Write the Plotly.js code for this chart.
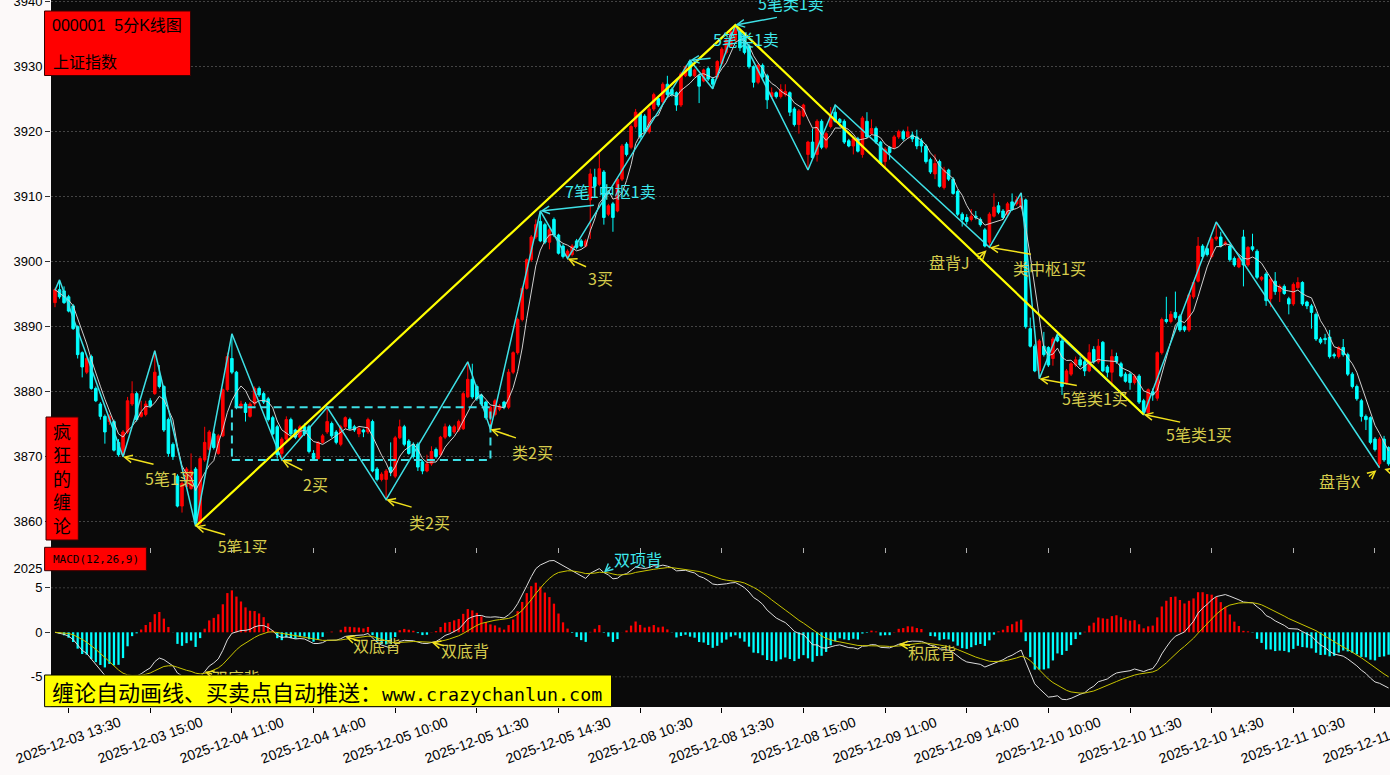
<!DOCTYPE html>
<html><head><meta charset="utf-8">
<script src="https://cdn.plot.ly/plotly-3.0.1.min.js"></script>
<style>html,body{margin:0;padding:0;background:#fcf9f9;}#chart{width:1390px;height:775px;}</style>
</head><body><div id="chart"></div>
<script>
// ---------------- DATA ----------------
// 5-minute bars of 000001 上证指数, [open, high, low, close]
const ohlc = [
[3893.7,3896.0,3893.0,3895.7],[3895.7,3897.2,3894.3,3894.6],[3895.5,3896.2,3893.5,3893.7],[3894.6,3894.9,3892.2,3892.4],[3893.2,3893.5,3889.5,3889.7],
[3890.0,3890.2,3885.1,3885.7],[3886.0,3886.2,3882.2,3883.8],[3883.0,3885.4,3882.7,3885.1],[3885.4,3885.7,3880.3,3880.5],[3880.5,3880.8,3878.4,3878.6],
[3878.1,3878.4,3875.7,3876.2],[3876.2,3876.5,3872.0,3873.8],[3875.4,3876.5,3874.9,3876.2],[3875.4,3875.7,3870.8,3871.0],[3872.2,3872.7,3870.0,3870.3],
[3870.3,3874.1,3870.0,3873.8],[3873.8,3879.2,3873.5,3878.6],[3878.1,3881.6,3877.8,3879.7],[3879.7,3880.0,3875.4,3875.7],[3876.2,3878.6,3876.0,3876.8],
[3876.5,3878.6,3876.2,3878.1],[3878.6,3879.0,3877.6,3877.8],[3879.7,3886.3,3879.5,3883.0],[3882.4,3884.1,3880.5,3880.8],[3880.8,3881.0,3873.8,3874.1],
[3875.7,3876.0,3870.0,3870.5],[3871.9,3872.2,3869.5,3870.0],[3867.0,3867.3,3862.2,3862.4],[3862.4,3866.2,3861.4,3865.9],[3865.4,3868.4,3865.1,3868.1],
[3865.1,3870.5,3864.9,3867.8],[3868.1,3868.4,3859.3,3859.8],[3859.8,3870.0,3859.5,3869.7],[3869.5,3874.6,3869.2,3872.2],[3871.1,3874.1,3870.8,3873.8],
[3873.5,3874.1,3871.1,3871.4],[3870.5,3873.5,3870.3,3873.2],[3873.2,3880.5,3873.0,3880.3],[3880.3,3886.0,3880.0,3885.4],[3885.1,3888.9,3882.7,3883.0],
[3883.0,3883.2,3877.3,3877.6],[3877.8,3878.6,3877.3,3878.1],[3878.1,3878.4,3875.4,3876.8],[3876.2,3878.4,3876.0,3878.1],[3878.1,3880.8,3877.8,3880.5],
[3880.5,3880.8,3879.2,3879.5],[3879.7,3880.0,3878.1,3878.4],[3878.9,3879.2,3875.4,3875.7],[3876.0,3876.3,3873.3,3873.5],[3874.6,3874.9,3869.7,3870.3],
[3870.5,3873.0,3869.5,3872.7],[3872.7,3876.2,3872.4,3875.7],[3875.7,3876.0,3873.2,3873.5],[3874.1,3874.3,3872.7,3873.0],[3873.0,3874.9,3872.7,3874.6],
[3874.6,3875.1,3873.2,3873.5],[3874.6,3874.9,3870.5,3870.8],[3870.5,3871.0,3869.6,3869.7],[3869.7,3872.4,3869.6,3872.2],[3872.2,3873.5,3872.0,3873.2],
[3873.8,3877.6,3873.5,3875.4],[3875.1,3875.4,3872.9,3873.2],[3873.8,3874.1,3871.9,3872.2],[3871.9,3874.9,3871.6,3874.6],[3874.6,3876.2,3874.3,3876.0],
[3875.7,3876.0,3874.1,3874.3],[3874.6,3874.9,3873.8,3874.1],[3873.5,3874.6,3873.0,3874.3],[3874.1,3874.3,3873.0,3873.8],[3873.8,3876.0,3873.5,3875.7],
[3875.4,3875.7,3867.6,3867.8],[3868.1,3868.4,3866.2,3866.5],[3866.5,3867.6,3866.2,3867.3],[3866.5,3868.1,3863.4,3867.8],[3868.4,3872.2,3867.0,3867.6],
[3867.0,3873.2,3866.7,3872.9],[3872.9,3875.7,3872.7,3874.6],[3874.6,3874.9,3871.6,3871.9],[3872.4,3872.7,3870.3,3870.5],[3871.9,3872.2,3869.7,3870.0],
[3871.9,3872.2,3867.8,3868.4],[3869.2,3869.5,3867.3,3867.8],[3867.8,3870.3,3867.6,3868.9],[3868.9,3871.6,3868.6,3870.8],[3871.1,3871.4,3869.7,3870.0],
[3870.3,3873.2,3870.0,3873.0],[3873.0,3875.1,3872.7,3874.6],[3874.6,3874.9,3873.0,3873.2],[3873.8,3874.9,3873.5,3874.6],[3874.1,3875.7,3873.8,3875.4],
[3874.3,3880.0,3874.1,3879.7],[3879.2,3884.6,3879.0,3881.9],[3881.9,3884.3,3878.9,3879.2],[3880.8,3881.1,3878.6,3878.9],[3879.5,3879.7,3877.8,3878.1],
[3878.4,3878.6,3875.7,3876.0],[3876.0,3877.8,3874.2,3877.6],[3876.5,3878.9,3876.2,3878.6],[3877.3,3878.1,3877.0,3877.8],[3878.4,3878.6,3877.3,3877.6],
[3877.6,3883.5,3877.3,3883.0],[3883.0,3886.2,3882.7,3886.0],[3886.0,3891.4,3885.7,3891.1],[3891.1,3896.2,3890.8,3895.9],[3895.9,3900.5,3895.7,3900.3],
[3900.3,3904.1,3900.0,3903.8],[3903.8,3906.5,3903.5,3905.7],[3906.2,3907.8,3903.0,3903.2],[3905.7,3906.0,3902.7,3903.0],[3903.0,3905.2,3901.9,3904.9],
[3906.5,3906.8,3903.8,3904.1],[3904.1,3904.3,3901.1,3901.3],[3902.4,3902.7,3900.5,3900.8],[3900.8,3901.9,3900.5,3901.6],[3901.1,3902.7,3900.8,3902.4],
[3903.2,3903.5,3901.9,3902.2],[3903.2,3903.5,3902.2,3902.4],[3902.4,3903.5,3902.2,3903.2],[3909.5,3914.3,3903.5,3913.5],[3913.0,3914.3,3911.4,3911.6],
[3911.9,3916.8,3911.6,3914.3],[3913.8,3914.1,3905.7,3906.8],[3907.3,3908.9,3907.0,3908.6],[3908.9,3909.2,3904.6,3906.8],[3907.8,3913.0,3907.6,3912.7],
[3912.7,3918.1,3912.4,3917.8],[3918.1,3918.4,3916.2,3916.5],[3917.6,3921.1,3917.3,3920.8],[3920.8,3923.5,3920.5,3923.0],[3922.7,3923.0,3918.9,3919.2],
[3922.4,3922.7,3919.7,3920.0],[3920.0,3923.8,3919.7,3923.5],[3923.5,3926.0,3923.2,3925.7],[3925.1,3925.4,3923.8,3924.1],[3924.6,3927.6,3924.3,3927.3],
[3927.3,3928.6,3925.4,3925.7],[3926.5,3926.8,3925.4,3925.7],[3926.0,3926.2,3923.2,3924.1],[3924.1,3929.2,3923.8,3928.9],[3928.6,3930.2,3928.4,3930.0],
[3930.8,3931.0,3928.4,3928.6],[3928.6,3929.7,3928.4,3929.5],[3928.6,3928.9,3924.4,3927.0],[3927.8,3929.7,3927.6,3929.5],[3929.7,3930.0,3927.8,3928.1],
[3928.1,3928.4,3926.6,3927.3],[3928.4,3931.0,3928.1,3930.8],[3930.5,3933.0,3930.2,3932.7],[3932.2,3934.3,3931.9,3934.1],[3933.2,3935.7,3932.9,3935.4],
[3934.1,3936.4,3933.8,3935.7],[3935.4,3935.7,3932.4,3932.9],[3934.9,3935.1,3931.9,3932.2],[3933.2,3933.5,3929.7,3930.0],[3930.0,3930.2,3926.8,3927.6],
[3927.6,3930.5,3927.3,3930.2],[3930.2,3930.5,3928.1,3928.4],[3928.6,3928.9,3923.5,3924.9],[3925.4,3926.8,3925.1,3926.0],[3926.0,3926.2,3925.1,3925.4],
[3925.4,3927.3,3925.1,3926.5],[3925.7,3927.3,3925.4,3926.2],[3926.0,3926.2,3922.4,3923.0],[3923.5,3923.8,3920.8,3921.1],[3921.1,3923.5,3919.7,3923.2],
[3922.4,3924.3,3922.2,3924.1],[3916.5,3918.6,3914.1,3918.4],[3918.4,3920.5,3915.7,3916.0],[3916.5,3921.9,3915.4,3921.6],[3921.6,3921.9,3917.3,3917.6],
[3917.6,3920.0,3917.3,3919.7],[3920.8,3923.8,3920.5,3922.4],[3923.0,3924.1,3921.4,3921.6],[3921.9,3922.1,3920.8,3921.4],[3921.6,3921.9,3918.1,3918.4],
[3918.6,3918.9,3917.6,3917.8],[3917.8,3919.2,3916.5,3918.9],[3918.9,3919.2,3916.8,3917.0],[3916.5,3922.4,3916.0,3922.1],[3921.6,3923.0,3919.0,3919.2],
[3919.7,3921.9,3919.5,3920.5],[3920.5,3920.8,3918.1,3918.4],[3918.4,3918.6,3914.9,3915.1],[3915.4,3917.6,3914.3,3917.3],[3917.6,3917.8,3915.7,3916.8],
[3917.6,3919.5,3917.3,3919.2],[3919.2,3920.3,3918.9,3920.0],[3920.0,3920.3,3918.6,3918.9],[3919.2,3920.8,3918.9,3920.0],[3919.5,3920.0,3918.4,3918.9],
[3919.2,3920.3,3917.3,3917.8],[3918.6,3919.0,3916.8,3917.8],[3917.8,3918.1,3915.1,3915.4],[3915.7,3916.0,3913.5,3913.8],[3913.5,3916.5,3912.7,3915.1],
[3915.4,3915.7,3911.4,3911.6],[3911.4,3914.6,3911.1,3914.1],[3914.1,3914.3,3912.4,3912.7],[3912.7,3913.0,3910.3,3910.5],[3910.8,3911.1,3907.0,3907.3],
[3907.3,3907.6,3905.4,3906.5],[3906.8,3907.3,3905.7,3906.2],[3906.5,3908.1,3906.2,3907.0],[3907.0,3907.8,3906.5,3906.8],[3906.5,3906.8,3905.4,3905.7],
[3904.9,3905.2,3902.2,3902.4],[3903.0,3907.6,3902.2,3907.3],[3907.0,3910.5,3906.8,3908.4],[3908.6,3909.2,3907.3,3907.6],[3907.8,3908.1,3906.5,3906.8],
[3907.3,3909.2,3907.0,3908.9],[3909.2,3910.5,3907.8,3908.1],[3908.9,3910.0,3908.6,3909.5],[3908.4,3910.6,3908.1,3909.7],[3909.5,3909.7,3889.7,3890.0],
[3889.7,3891.4,3886.8,3887.0],[3887.0,3887.3,3883.0,3883.2],[3883.2,3888.1,3882.0,3887.8],[3887.0,3889.2,3885.4,3885.7],[3886.8,3887.0,3883.8,3884.1],
[3885.1,3888.4,3884.0,3888.1],[3888.4,3888.9,3887.6,3887.8],[3887.8,3888.1,3879.5,3880.8],[3881.4,3883.5,3881.1,3883.2],[3882.7,3884.6,3882.4,3884.3],
[3884.1,3885.4,3883.8,3884.9],[3884.9,3885.4,3883.8,3884.1],[3884.6,3884.9,3882.4,3883.2],[3883.2,3887.3,3883.0,3886.0],[3886.5,3887.0,3884.3,3884.6],
[3884.6,3888.1,3884.3,3887.0],[3887.6,3887.8,3883.0,3883.2],[3883.8,3884.1,3882.2,3883.0],[3883.0,3886.5,3880.8,3885.4],[3885.4,3886.0,3884.3,3884.6],
[3884.3,3884.6,3882.2,3882.4],[3882.7,3883.0,3881.4,3881.6],[3882.7,3883.0,3880.3,3881.4],[3881.4,3882.7,3881.1,3882.4],[3882.4,3882.7,3878.1,3878.4],
[3878.6,3878.9,3876.5,3876.8],[3876.8,3880.5,3876.5,3880.3],[3880.0,3880.5,3878.6,3879.5],[3879.0,3886.2,3878.6,3886.0],[3886.0,3891.4,3885.7,3891.1],
[3891.1,3894.6,3890.5,3890.8],[3890.8,3892.4,3890.5,3891.9],[3892.2,3895.4,3891.1,3891.4],[3891.6,3891.9,3889.2,3889.5],[3890.0,3890.2,3889.2,3889.5],
[3889.5,3895.1,3889.2,3894.9],[3894.6,3897.0,3894.3,3896.8],[3897.0,3903.8,3896.8,3902.4],[3902.4,3902.7,3900.5,3900.8],[3902.0,3902.2,3900.8,3901.1],
[3900.8,3903.8,3900.5,3903.5],[3903.5,3906.1,3903.2,3903.8],[3903.8,3904.6,3902.2,3902.4],[3902.7,3903.2,3902.4,3902.9],[3902.4,3902.7,3900.0,3900.3],
[3900.5,3900.8,3899.2,3899.5],[3899.2,3900.8,3899.0,3900.5],[3903.8,3904.9,3896.2,3899.5],[3899.5,3902.4,3899.2,3902.2],[3902.3,3904.3,3901.6,3901.9],
[3901.6,3901.9,3897.3,3897.6],[3897.3,3897.8,3897.0,3897.6],[3898.1,3898.4,3893.2,3894.0],[3894.3,3897.6,3893.0,3897.3],[3897.0,3898.4,3894.9,3895.4],
[3895.4,3896.5,3893.8,3896.2],[3896.2,3896.5,3894.9,3895.1],[3894.3,3894.6,3891.9,3893.5],[3893.5,3896.8,3893.2,3896.5],[3896.0,3897.6,3895.7,3896.8],
[3896.8,3897.0,3893.2,3893.5],[3893.8,3894.0,3892.7,3893.2],[3893.2,3893.5,3889.7,3892.2],[3891.9,3892.2,3887.8,3888.1],[3888.1,3888.4,3887.3,3887.6],
[3888.2,3888.9,3887.3,3888.0],[3888.4,3889.5,3885.1,3885.4],[3885.7,3886.0,3885.1,3885.5],[3885.4,3887.0,3885.1,3886.8],[3886.8,3888.1,3885.4,3885.7],
[3885.7,3886.0,3882.4,3882.7],[3882.7,3883.0,3880.5,3880.8],[3880.8,3881.1,3878.6,3878.9],[3878.6,3878.9,3875.4,3876.2],[3876.2,3876.5,3874.1,3875.7],
[3876.0,3876.2,3871.9,3872.2],[3872.7,3873.0,3870.8,3871.1],[3868.9,3873.0,3868.3,3872.7],[3872.7,3873.2,3869.2,3869.5],[3871.4,3871.6,3868.6,3868.9]
];
// x-axis ticks: bar index and label
const tickIdx = [3,21,39,57,75,93,111,129,147,165,183,201,219,237,255,273,291];
const tickLabels = ["2025-12-03 13:30","2025-12-03 15:00","2025-12-04 11:00","2025-12-04 14:00","2025-12-05 10:00","2025-12-05 11:30",
  "2025-12-05 14:30","2025-12-08 10:30","2025-12-08 13:30","2025-12-08 15:00","2025-12-09 11:00","2025-12-09 14:00",
  "2025-12-10 10:00","2025-12-10 11:30","2025-12-10 14:30","2025-12-11 10:30","2025-12-11 13:30"];
// 笔 (stroke) turning points
const biIdx   = [0,1,15,22,31,39,50,60,73,91,96,107,113,140,145,150,166,172,206,213,217,221,240,256,292];
const biPrice = [3895.6,3897.2,3870.0,3886.3,3859.3,3888.9,3869.5,3877.6,3863.4,3884.6,3874.2,3907.8,3900.5,3931.0,3926.6,3936.4,3914.1,3924.1,3902.2,3910.6,3882.0,3888.9,3876.5,3906.1,3868.3];
// 线段 (segment) turning points
const segIdx   = [31,150,240];
const segPrice = [3859.3,3936.4,3876.5];
// 中枢 (pivot zone) box: bar range and price range
const zsIdx   = [39,96];
const zsPrice = [3869.5,3877.6];
// signal labels on the price panel: text, pivot number
const sigText  = ['5笔1买','2买','类2买','类2买','3买','7笔1中枢1卖','5笔类1卖','5笔类1卖','盘背J','类中枢1买','5笔类1买','5笔类1买','盘背X'];
const sigPivot = [2,6,8,10,12,11,13,15,18,18,20,22,24];
// MACD signal labels: text, bar index
const macdText = ['双项背','双底背','双底背','积底背'];
const macdIdx  = [121,64,83,186];

// ---------------- derived series ----------------
const idx = ohlc.map((_, i) => i);
const open = ohlc.map(r => r[0]), high = ohlc.map(r => r[1]), low = ohlc.map(r => r[2]), close = ohlc.map(r => r[3]);
const ma5 = close.map((_, i) => { const s = Math.max(0, i - 4); let t = 0; for (let j = s; j <= i; j++) t += close[j]; return t / (i - s + 1); });
function ema(a, n) { const k = 2 / (n + 1), o = []; a.forEach((v, i) => o.push(i === 0 ? v : k * v + (1 - k) * o[i - 1])); return o; }
const e12 = ema(close, 12), e26 = ema(close, 26);
const dif = e12.map((v, i) => v - e26[i]);
const dea = ema(dif, 9);
const hist = dif.map((v, i) => 2 * (v - dea[i]));

// ---------------- layout constants ----------------
const RED = '#ff0000', CY = '#00ffff', LINECY = '#3ee0e6', YEL = '#ffff00', TXTY = '#d6cc4c', TXTC = '#3ee8ec', ARRY = '#f2e21c';
const ML = 51, PW = 1339, PH = 707, MAINB = 553;
const XR = [-0.88, 294.31], YR = [3855.18, 3940.26], Y2R = [-8.39, 8.91];
const pxX = x => (x - ML) / PW, pxY = y => (PH - y) / PH;
const xPerPx = (XR[1] - XR[0]) / PW, yPerPx = (YR[1] - YR[0]) / MAINB, y2PerPx = (Y2R[1] - Y2R[0]) / (PH - MAINB);
const CJK = "'Noto Sans CJK SC', sans-serif";

// placement of signal labels (pixel offsets from their pivot): text dx,dy ; arrow tail ax,ay
const sigPlace = [[47,21,32,8],[34,24,22,11],[43,22,27,8],[42,23,27,9],[33,20,20,9],[70,-20,55,-6],[56,-21,22,-2],[56,-22,43,-8],
  [-40,15,-13,13],[60,21,43,7],[56,19,39,7],[55,20,38,8],[-40,13,-12,10]];
const macdPlace = [[34,-14,8,-7],[32,9,15,5],[34,8,14,4],[33,8,13,1]];

const traces = [
  {type:'candlestick', x:idx, open, high, low, close, xaxis:'x', yaxis:'y', whiskerwidth:0,
   increasing:{line:{color:RED,width:1}, fillcolor:RED}, decreasing:{line:{color:CY,width:1}, fillcolor:CY}, hoverinfo:'skip'},
  {type:'scatter', mode:'lines', x:idx, y:ma5, line:{color:'#cfcfcf', width:1}, xaxis:'x', yaxis:'y', hoverinfo:'skip'},
  {type:'scatter', mode:'lines', x:biIdx, y:biPrice, line:{color:LINECY, width:1.5}, xaxis:'x', yaxis:'y', hoverinfo:'skip'},
  {type:'scatter', mode:'lines', x:segIdx, y:segPrice, line:{color:YEL, width:2.2}, xaxis:'x', yaxis:'y', hoverinfo:'skip'},
  // label clipped by the bottom of the price panel
  {type:'scatter', mode:'text', x:[biIdx[4] + 47 * xPerPx], y:[biPrice[4] - 23 * yPerPx], text:['5笔1买'],
   textfont:{family:CJK, size:16, color:TXTY}, textposition:'middle center', cliponaxis:true, xaxis:'x', yaxis:'y', hoverinfo:'skip'},
  {type:'bar', x:idx, y:hist, width:0.5, marker:{color:hist.map(v => v >= 0 ? RED : CY), line:{width:0}}, xaxis:'x2', yaxis:'y2', hoverinfo:'skip'},
  {type:'scatter', mode:'lines', x:idx, y:dif, line:{color:'#dcdcdc', width:1}, xaxis:'x2', yaxis:'y2', hoverinfo:'skip'},
  {type:'scatter', mode:'lines', x:idx, y:dea, line:{color:'#c8c400', width:1}, xaxis:'x2', yaxis:'y2', hoverinfo:'skip'},
  // label hidden behind the banner
  {type:'scatter', mode:'text', x:[33 + 31 * xPerPx], y:[dif[33] - 8 * y2PerPx], text:['双底背'],
   textfont:{family:CJK, size:16, color:TXTY}, textposition:'middle center', cliponaxis:true, xaxis:'x2', yaxis:'y2', hoverinfo:'skip'}
];

const ann = [];
sigText.forEach((t, j) => {
  const k = sigPivot[j], p = sigPlace[j], sell = t.indexOf('卖') >= 0;
  ann.push({x:biIdx[k], y:biPrice[k], xref:'x', yref:'y', text:t, showarrow:false, xshift:p[0], yshift:-p[1],
            font:{family:CJK, size:16, color:sell ? TXTC : TXTY}, xanchor:'center', yanchor:'middle'});
  ann.push({x:biIdx[k], y:biPrice[k], xref:'x', yref:'y', text:'', showarrow:true, ax:p[2], ay:p[3], arrowhead:5, arrowsize:1,
            arrowwidth:1.5, arrowcolor:sell ? LINECY : ARRY, standoff:(t.indexOf('盘背') === 0 ? 4 : 0)});
});
// clipped label arrow and far-right arrow
ann.push({x:biIdx[4], y:biPrice[4], xref:'x', yref:'y', text:'', showarrow:true, ax:31, ay:9, arrowhead:5, arrowsize:1, arrowwidth:1.5, arrowcolor:ARRY});
ann.push({x:biIdx[24], y:biPrice[24], xref:'x', yref:'y', text:'', showarrow:true, ax:26, ay:3, arrowhead:5, arrowsize:1, arrowwidth:1.5, arrowcolor:ARRY, standoff:5});
macdText.forEach((t, j) => {
  const i = macdIdx[j], p = macdPlace[j];
  ann.push({x:i, y:dif[i], xref:'x2', yref:'y2', text:t, showarrow:false, xshift:p[0], yshift:-p[1],
            font:{family:CJK, size:16, color:j === 0 ? TXTC : TXTY}, xanchor:'center', yanchor:'middle'});
  ann.push({x:i, y:dif[i], xref:'x2', yref:'y2', text:'', showarrow:true, ax:p[2], ay:p[3], arrowhead:5, arrowsize:1, arrowwidth:1.5,
            arrowcolor:j === 0 ? LINECY : ARRY});
});
ann.push({x:33, y:dif[33], xref:'x2', yref:'y2', text:'', showarrow:true, ax:9, ay:3, arrowhead:5, arrowsize:1, arrowwidth:1.5, arrowcolor:ARRY});
// rotated time labels, centred on their ticks
tickIdx.forEach((v, j) => ann.push({x:v, y:pxY(740), xref:'x2', yref:'paper', text:tickLabels[j], textangle:-20, showarrow:false,
  xanchor:'center', yanchor:'middle', font:{family:'Liberation Sans, Arial, sans-serif', size:14, color:'#000'}}));
// boxed captions
ann.push({x:pxX(50), y:pxY(25.5), xref:'paper', yref:'paper', text:'000001\u00a0\u00a05分K线图', showarrow:false, xanchor:'left', yanchor:'middle',
  font:{family:"'Liberation Sans', 'Noto Sans CJK SC'", size:16, color:'#000'}});
ann.push({x:pxX(51), y:pxY(61), xref:'paper', yref:'paper', text:'上证指数', showarrow:false, xanchor:'left', yanchor:'middle',
  font:{family:CJK, size:16, color:'#000'}});
ann.push({x:pxX(62), y:pxY(478), xref:'paper', yref:'paper', text:'疯<br>狂<br>的<br>缠<br>论', showarrow:false,
  xanchor:'center', yanchor:'middle', font:{family:CJK, size:18, color:'#000'}});
ann.push({x:pxX(95.5), y:pxY(559), xref:'paper', yref:'paper', text:'MACD(12,26,9)', showarrow:false, xanchor:'center', yanchor:'middle',
  font:{family:"'DejaVu Sans Mono', monospace", size:11, color:'#000'}});
ann.push({x:pxX(50), y:pxY(691), xref:'paper', yref:'paper', showarrow:false, xanchor:'left', yanchor:'middle',
  text:'缠论自动画线、买卖点自动推送：<span style="font-family:DejaVu Sans Mono;font-size:18.3px">www.crazychanlun.com</span>',
  font:{family:CJK, size:22, color:'#000'}});

const shapes = [
  {type:'rect', xref:'x', yref:'y', x0:zsIdx[0], x1:zsIdx[1], y0:zsPrice[0], y1:zsPrice[1], line:{color:LINECY, width:2, dash:'8px,5px'}, layer:'above'},
  {type:'line', xref:'paper', yref:'y2', x0:0, x1:1, y0:5, y1:5, line:{color:'#3c3c3c', width:1, dash:'2px,2px'}, layer:'below'},
  {type:'line', xref:'paper', yref:'y2', x0:0, x1:1, y0:-5, y1:-5, line:{color:'#3c3c3c', width:1, dash:'2px,2px'}, layer:'below'},
  {type:'rect', xref:'paper', yref:'paper', x0:pxX(44.5), x1:pxX(190.5), y0:pxY(75.5), y1:pxY(11), fillcolor:RED, line:{color:'#3a0000', width:1}, layer:'above'},
  {type:'rect', xref:'paper', yref:'paper', x0:pxX(46), x1:pxX(78.3), y0:pxY(540), y1:pxY(417), fillcolor:RED, line:{color:'#3a0000', width:1}, layer:'above'},
  {type:'rect', xref:'paper', yref:'paper', x0:pxX(44.6), x1:pxX(146.4), y0:pxY(570.7), y1:pxY(547.3), fillcolor:RED, line:{color:'#3a0000', width:1}, layer:'above'},
  {type:'rect', xref:'paper', yref:'paper', x0:pxX(44.6), x1:pxX(611.6), y0:pxY(706.7), y1:pxY(675), fillcolor:'#ffff00', line:{color:'#000', width:1}, layer:'above'}
];

const tickFont = {family:'Liberation Sans, Arial, sans-serif', size:13, color:'#000'};
const layout = {
  width:1390, height:775, margin:{l:ML, r:0, t:0, b:68, pad:0},
  paper_bgcolor:'#fcf9f9', plot_bgcolor:'#0a0a0a', showlegend:false, boxgap:0.2,
  xaxis:{domain:[0,1], range:XR, anchor:'y', showticklabels:false, tickvals:tickIdx, ticks:'inside', ticklen:5, tickcolor:'#b0b0b0',
         showgrid:false, zeroline:false, showline:false, rangeslider:{visible:false}, fixedrange:true},
  yaxis:{domain:[pxY(MAINB), 1], range:YR, anchor:'x', tickvals:[3860,3870,3880,3890,3900,3910,3920,3930,3940], ticks:'outside', ticklen:5,
         tickcolor:'#333', tickfont:tickFont, ticklabeloverflow:'allow', showgrid:true, gridcolor:'#444', griddash:'2px,2px', gridwidth:1,
         zeroline:false, showline:false, fixedrange:true},
  xaxis2:{domain:[0,1], range:XR, anchor:'y2', showticklabels:false, tickvals:tickIdx, ticks:'outside', ticklen:5, tickcolor:'#000',
          showgrid:false, zeroline:false, showline:false, fixedrange:true},
  yaxis2:{domain:[0, pxY(MAINB)], range:Y2R, anchor:'x2', tickvals:[-5,0,5,7.19], ticktext:['-5','0','5','2025'], ticks:'outside', ticklen:5,
          tickcolor:'#333', tickfont:tickFont, showgrid:false, zeroline:false, showline:false, fixedrange:true},
  shapes, annotations:ann
};
Plotly.newPlot('chart', traces, layout, {displayModeBar:false, staticPlot:true});
</script>
</body></html>
